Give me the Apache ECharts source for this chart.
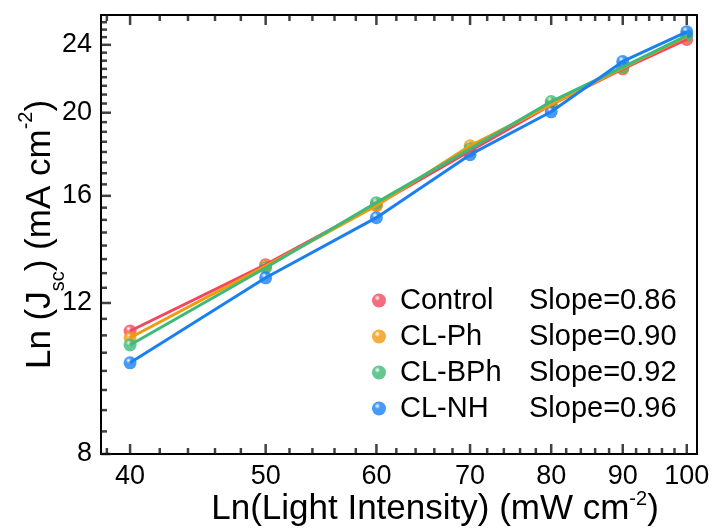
<!DOCTYPE html>
<html>
<head>
<meta charset="utf-8">
<script src="https://cdn.jsdelivr.net/npm/echarts@6/dist/echarts.min.js"></script>
<style>
  html, body { margin: 0; padding: 0; background: #fff; }
  #chart { width: 713px; height: 528px; }
</style>
</head>
<body>
<div id="chart"></div>
<script>
// Light intensity (mW cm^-2) and short-circuit current density (mA cm^-2)
const intensity = [40, 50, 60, 70, 80, 90, 100];
const control = [11.13, 13.30, 15.62, 18.05, 20.44, 22.50, 24.35];
const clPh    = [10.93, 13.25, 15.58, 18.30, 20.44, 22.55, 24.55];
const clBPh   = [10.72, 13.19, 15.71, 18.15, 20.61, 22.60, 24.60];
const clNH    = [10.22, 12.84, 15.09, 17.87, 20.05, 22.95, 24.85];

const seriesNames = ['Control', 'CL-Ph', 'CL-BPh', 'CL-NH'];
const slopes = ['0.86', '0.90', '0.92', '0.96'];
const colors = ['#f4475f', '#f09a0c', '#3dba78', '#1a80f2'];

const xTicks = [40, 50, 60, 70, 80, 90, 100];
const xMinorTicks = [38.5, 42, 44, 46, 48, 52, 54, 56, 58, 62, 64, 66, 68, 72, 74, 76, 78, 82, 84, 86, 88, 92, 94, 96, 98];
const yTicks = [8, 12, 16, 20, 24];
const yMinorTicks = [8.5, 9, 9.5, 10, 10.5, 11, 11.5, 12.5, 13, 13.5, 14, 14.5, 15, 15.5, 16.5, 17, 17.5, 18, 18.5, 19, 19.5, 20.5, 21, 21.5, 22, 22.5, 23, 23.5, 24.5, 25, 25.5];

const xRange = [38.13, 101.7];
const yRange = [8, 26.0];

const ln = Math.log;
const FONT = '"Liberation Sans", Arial, sans-serif';
const MAJOR_LEN = 10;
const MINOR_LEN = 6;
const TICK_W = 2.5;

function sphere(c) {
  return new echarts.graphic.RadialGradient(0.38, 0.32, 0.75, [
    { offset: 0, color: '#ffffff' },
    { offset: 0.28, color: c },
    { offset: 1, color: c }
  ]);
}

// Both axes plot natural logarithms; labels show the original values.
const xAxis = {
  type: 'value', position: 'bottom',
  min: ln(xRange[0]), max: ln(xRange[1]),
  axisLine: { show: true, onZero: false, lineStyle: { color: '#000', width: 2 } },
  axisTick: { show: false },
  axisLabel: {
    show: true, customValues: xTicks.map(ln), margin: 9,
    formatter: v => String(Math.round(Math.exp(v))),
    color: '#000', fontSize: 27, fontFamily: FONT
  },
  splitLine: { show: false },
  name: '{t|Ln(Light Intensity) (mW cm}{sup|-2}{t|)}',
  nameLocation: 'middle',
  nameMoveOverlap: false,
  nameGap: 35,
  nameTextStyle: {
    padding: [0, 0, 0, 72],
    rich: {
      t: { fontSize: 35, fontFamily: FONT, color: '#000', lineHeight: 38, verticalAlign: 'bottom' },
      sup: { fontSize: 20, fontFamily: FONT, color: '#000', lineHeight: 38, verticalAlign: 'top' }
    }
  }
};

const yAxis = {
  type: 'value', position: 'left',
  min: ln(yRange[0]), max: ln(yRange[1]),
  axisLine: { show: true, onZero: false, lineStyle: { color: '#000', width: 2 } },
  axisTick: { show: false },
  axisLabel: {
    show: true, customValues: yTicks.map(ln), margin: 9,
    formatter: v => String(Math.round(Math.exp(v))),
    color: '#000', fontSize: 27, fontFamily: FONT
  },
  splitLine: { show: false },
  name: '{t|Ln (J}{sub|sc}{t|) (mA cm}{sup|-2}{t|)}',
  nameLocation: 'middle',
  nameRotate: 90,
  nameMoveOverlap: false,
  nameGap: 42,
  nameTextStyle: {
    rich: {
      t: { fontSize: 35, fontFamily: FONT, color: '#000', lineHeight: 38, verticalAlign: 'middle' },
      sub: { fontSize: 20, fontFamily: FONT, color: '#000', lineHeight: 16, verticalAlign: 'bottom', padding: [0, 0, -9, 0] },
      sup: { fontSize: 20, fontFamily: FONT, color: '#000', lineHeight: 16, verticalAlign: 'top', padding: [-5, 0, 0, 0] }
    }
  }
};

// Inward frame ticks (bottom, top, left), drawn as thin rectangles placed by the grid's scales.
const yLo = ln(yRange[0]), yHi = ln(yRange[1]), xLo = ln(xRange[0]);
function tickSeries(points, size, offset) {
  return {
    type: 'scatter', silent: true, clip: false, z: 5,
    symbol: 'rect', symbolSize: size, symbolOffset: offset,
    itemStyle: { color: '#111111' },
    data: points
  };
}
const tickSeriesList = [
  tickSeries(xTicks.map(v => [ln(v), yLo]), [TICK_W, MAJOR_LEN], [0, -MAJOR_LEN / 2]),
  tickSeries(xMinorTicks.map(v => [ln(v), yLo]), [TICK_W, MINOR_LEN], [0, -MINOR_LEN / 2]),
  tickSeries(xTicks.map(v => [ln(v), yHi]), [TICK_W, MAJOR_LEN], [0, MAJOR_LEN / 2]),
  tickSeries(xMinorTicks.map(v => [ln(v), yHi]), [TICK_W, MINOR_LEN], [0, MINOR_LEN / 2]),
  tickSeries(yTicks.map(v => [xLo, ln(v)]), [MAJOR_LEN, TICK_W], [MAJOR_LEN / 2, 0]),
  tickSeries(yMinorTicks.map(v => [xLo, ln(v)]), [MINOR_LEN, TICK_W], [MINOR_LEN / 2, 0])
];

const dataSets = [control, clPh, clBPh, clNH];

const series = [];
dataSets.forEach((vals, i) => {
  series.push({
    name: seriesNames[i], type: 'scatter',
    data: intensity.map((x, k) => [ln(x), ln(vals[k])]),
    symbol: 'circle', symbolSize: 13, z: 2,
    itemStyle: { color: sphere(colors[i]) }
  });
});
dataSets.forEach((vals, i) => {
  series.push({
    name: seriesNames[i], type: 'line',
    data: intensity.map((x, k) => [ln(x), ln(vals[k])]),
    showSymbol: false, z: 3,
    lineStyle: { color: colors[i], width: 3 },
    itemStyle: { color: colors[i] }
  });
});

const chart = echarts.init(document.getElementById('chart'), null, { renderer: 'canvas' });
chart.setOption({
  animation: false,
  backgroundColor: '#fff',
  grid: {
    left: 101, right: 16, top: 15, bottom: 74,
    outerBoundsMode: 'none', containLabel: false,
    show: true, borderColor: '#000', borderWidth: 2, backgroundColor: 'transparent'
  },
  xAxis: xAxis,
  yAxis: yAxis,
  legend: {
    orient: 'vertical', left: 367, top: 279,
    itemWidth: 14, itemHeight: 14, itemGap: 3,
    data: seriesNames.map((n, i) => ({ name: n, icon: 'circle', itemStyle: { color: sphere(colors[i]) } })),
    formatter: name => '{n|' + name + '}{s|Slope=' + slopes[seriesNames.indexOf(name)] + '}',
    textStyle: {
      color: '#000', fontSize: 29, fontFamily: FONT, lineHeight: 33,
      rich: {
        n: { fontSize: 29, fontFamily: FONT, color: '#000', width: 129, padding: [0, 0, 0, 9] },
        s: { fontSize: 29, fontFamily: FONT, color: '#000' }
      }
    }
  },
  series: series.concat(tickSeriesList)
});
</script>
</body>
</html>
